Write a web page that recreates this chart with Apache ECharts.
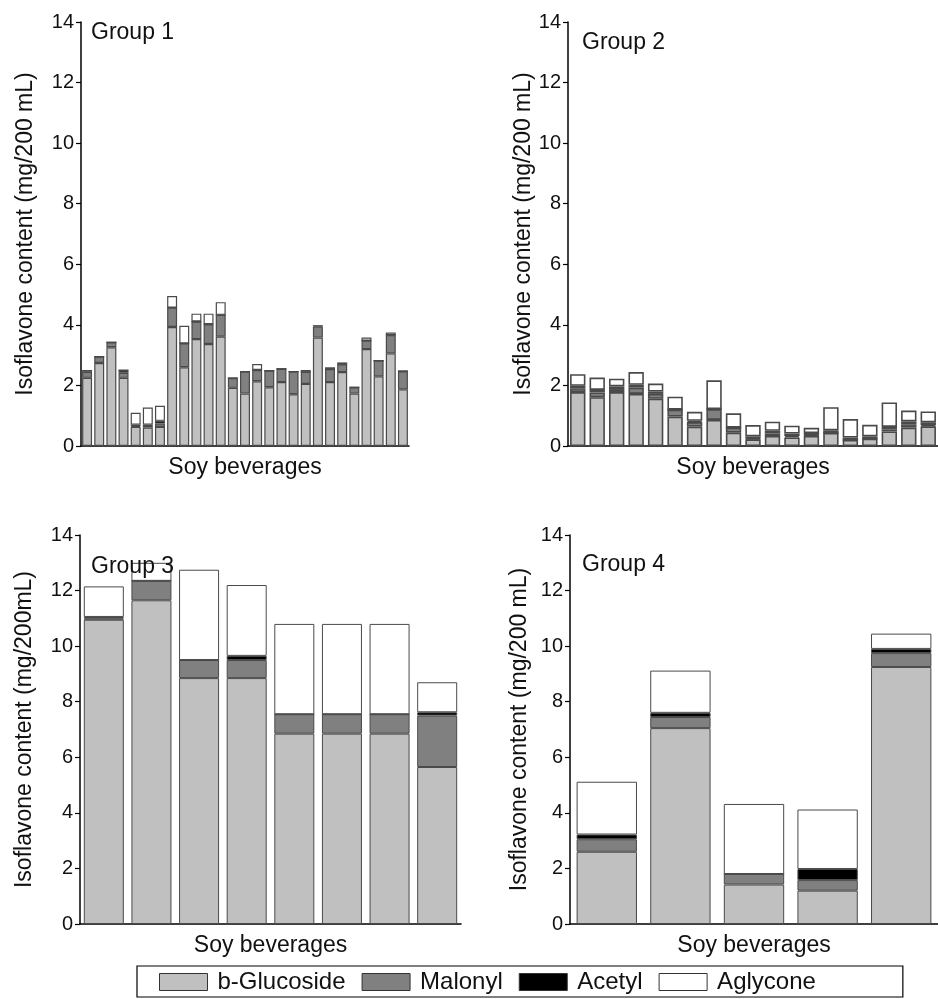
<!DOCTYPE html>
<html><head><meta charset="utf-8">
<script src="https://cdn.jsdelivr.net/npm/echarts@6/dist/echarts.min.js"></script>
<style>html,body{margin:0;padding:0;background:#fff}#c{width:938px;height:999px}</style>
</head><body><div id="c"></div>
<script>
const seriesNames = ['b-Glucoside', 'Malonyl', 'Acetyl', 'Aglycone'];
const yTicks = [0, 2, 4, 6, 8, 10, 12, 14];

const g1Gluc = [2.25, 2.74, 3.26, 2.25, 0.63, 0.61, 0.63, 3.93, 2.60, 3.53, 3.37, 3.61, 1.92, 1.73, 2.14, 1.94, 2.11, 1.71, 2.05, 3.58, 2.11, 2.44, 1.73, 3.20, 2.30, 3.06, 1.87];
const g1Mal  = [0.20, 0.21, 0.16, 0.17, 0.03, 0.05, 0.11, 0.64, 0.79, 0.58, 0.65, 0.72, 0.32, 0.73, 0.37, 0.55, 0.44, 0.75, 0.40, 0.36, 0.43, 0.26, 0.21, 0.28, 0.52, 0.60, 0.60];
const g1Ac   = [0.04, 0, 0, 0.09, 0.04, 0.04, 0.09, 0, 0, 0, 0, 0, 0, 0, 0, 0, 0, 0, 0, 0.03, 0, 0, 0, 0, 0, 0, 0];
const g1Agl  = [0, 0, 0, 0, 0.40, 0.57, 0.50, 0.38, 0.58, 0.26, 0.35, 0.42, 0, 0, 0.20, 0, 0, 0, 0.06, 0, 0.06, 0.06, 0, 0.10, 0, 0.09, 0];

const g2Gluc = [1.78, 1.61, 1.78, 1.72, 1.56, 0.97, 0.64, 0.86, 0.44, 0.22, 0.33, 0.28, 0.33, 0.43, 0.20, 0.24, 0.48, 0.61, 0.65];
const g2Mal  = [0.13, 0.16, 0.10, 0.21, 0.16, 0.23, 0.15, 0.36, 0.17, 0.03, 0.08, 0.05, 0.02, 0, 0, 0, 0.06, 0.11, 0.04];
const g2Ac   = [0.08, 0.08, 0.09, 0.09, 0.08, 0, 0.04, 0, 0, 0.07, 0.09, 0.08, 0.08, 0.09, 0.08, 0.08, 0.09, 0.09, 0.09];
const g2Agl  = [0.38, 0.41, 0.25, 0.42, 0.26, 0.43, 0.30, 0.95, 0.47, 0.37, 0.30, 0.26, 0.17, 0.76, 0.61, 0.38, 0.81, 0.36, 0.36];

const g3Gluc = [10.95, 11.65, 8.85, 8.85, 6.85, 6.85, 6.85, 5.65];
const g3Mal  = [0.05, 0.70, 0.65, 0.65, 0.70, 0.70, 0.70, 1.85];
const g3Ac   = [0.05, 0, 0, 0.15, 0, 0, 0, 0.12];
const g3Agl  = [1.10, 0.65, 3.25, 2.55, 3.25, 3.25, 3.25, 1.08];

const g4Gluc = [2.60, 7.05, 1.42, 1.20, 9.25];
const g4Mal  = [0.45, 0.40, 0.38, 0.38, 0.50];
const g4Ac   = [0.17, 0.15, 0, 0.40, 0.15];
const g4Agl  = [1.90, 1.52, 2.52, 2.14, 0.55];

const groupTitles = ['Group 1', 'Group 2', 'Group 3', 'Group 4'];
const yNames = ['Isoflavone content (mg/200 mL)', 'Isoflavone content (mg/200 mL)', 'Isoflavone content (mg/200mL)', 'Isoflavone content (mg/200 mL)'];
const xName = 'Soy beverages';

const FONT = 'Liberation Sans, Arial, Helvetica, sans-serif';
const colors = ['#c0c0c0', '#808080', '#000000', '#ffffff'];

const groups = [
  {data: [g1Gluc, g1Mal, g1Ac, g1Agl], gap: '18%', bw: 1.2},
  {data: [g2Gluc, g2Mal, g2Ac, g2Agl], gap: '21%', bw: 1.6},
  {data: [g3Gluc, g3Mal, g3Ac, g3Agl], gap: '16%', bw: 1},
  {data: [g4Gluc, g4Mal, g4Ac, g4Agl], gap: '18%', bw: 1}
];

const grids = [
  {left: 81, width: 328, top: 22, height: 424},
  {left: 568, width: 376, top: 22, height: 424},
  {left: 80, width: 381, top: 535, height: 389},
  {left: 570, width: 378, top: 535, height: 389}
];
const nameGaps = [44, 33, 44, 39];

const xAxis = [], yAxis = [], series = [], title = [];
groups.forEach((g, i) => {
  const cats = g.data[0].map((_, k) => String(k + 1));
  xAxis.push({
    type: 'category', gridIndex: i, data: cats,
    axisLine: {lineStyle: {color: '#000', width: 1.5}},
    axisTick: {show: false}, axisLabel: {show: false},
    name: xName, nameLocation: 'middle', nameGap: 10,
    nameTextStyle: {fontFamily: FONT, fontSize: 23, color: '#111', verticalAlign: 'top'}
  });
  yAxis.push({
    type: 'value', gridIndex: i, min: 0, max: 14, interval: 2,
    axisLine: {show: true, lineStyle: {color: '#000', width: 1.5}},
    axisTick: {show: true, length: 5, lineStyle: {color: '#000', width: 1.2}},
    axisLabel: {fontFamily: FONT, fontSize: 20, color: '#111', margin: 7,
      formatter: v => yTicks.includes(v) ? String(v) : ''},
    splitLine: {show: false},
    name: yNames[i], nameLocation: 'middle', nameGap: nameGaps[i],
    nameTextStyle: {fontFamily: FONT, fontSize: 23, color: '#111'}
  });
  g.data.forEach((arr, s) => {
    series.push({
      type: 'bar', name: seriesNames[s], xAxisIndex: i, yAxisIndex: i,
      stack: 'g' + i, data: arr, barCategoryGap: g.gap,
      itemStyle: {color: colors[s], borderColor: '#4a4a4a', borderWidth: g.bw},
      emphasis: {disabled: true}, animation: false
    });
  });
});
title.push({text: groupTitles[0], left: 91, top: 21});
title.push({text: groupTitles[1], left: 582, top: 31});
title.push({text: groupTitles[2], left: 91, top: 555});
title.push({text: groupTitles[3], left: 582, top: 553});
title.forEach(t => { t.padding = 0; t.textStyle = {fontFamily: FONT, fontSize: 23, fontWeight: 'normal', color: '#111'}; });

const chart = echarts.init(document.getElementById('c'), null, {renderer: 'canvas'});
chart.setOption({
  animation: false,
  title: title,
  grid: grids,
  xAxis: xAxis,
  yAxis: yAxis,
  series: series,
  legend: {
    data: seriesNames, left: 137, top: 966,
    padding: [4, 87, 3, 22], itemGap: 16, itemWidth: 48, itemHeight: 17,
    borderColor: '#000', borderWidth: 1.2, borderRadius: 0,
    icon: 'rect', selectedMode: false,
    itemStyle: {borderColor: '#333', borderWidth: 1},
    textStyle: {fontFamily: FONT, fontSize: 24, color: '#111', padding: [0, 0, 0, 5]}
  }
});
</script></body></html>
